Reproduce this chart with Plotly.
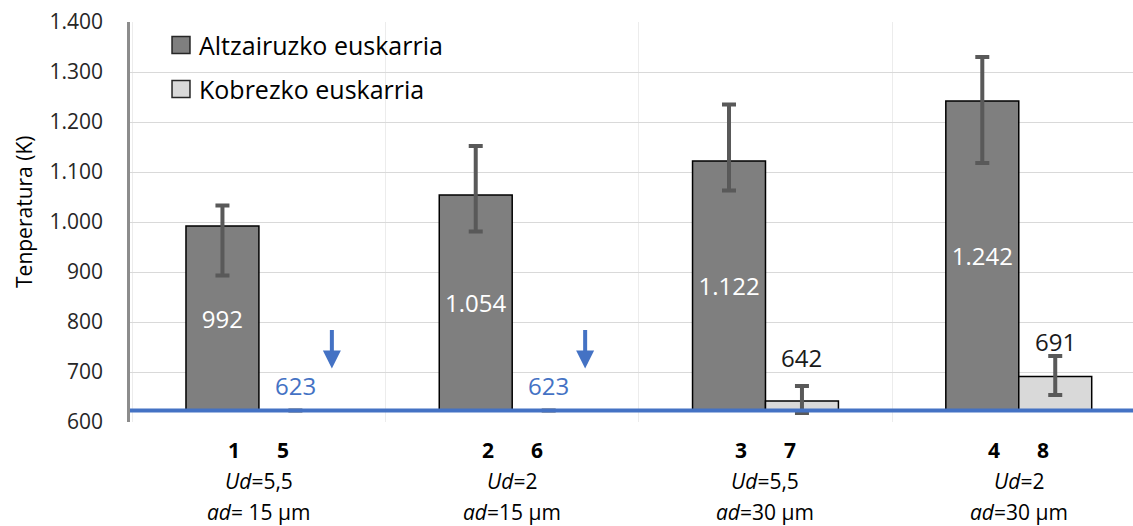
import plotly.graph_objects as go

# Experiment groups (steel support / copper support)
STEEL_IDS = ["1", "2", "3", "4"]
COPPER_IDS = ["5", "6", "7", "8"]
UD_VALUES = ["5,5", "2", "5,5", "2"]
AD_VALUES = [" 15", "15", "30", "30"]

SERIES_NAMES = ["Altzairuzko euskarria", "Kobrezko euskarria"]

STEEL_TEMPS = [992, 1054, 1122, 1242]
STEEL_ERR_PLUS = [41, 98, 113, 88]
STEEL_ERR_MINUS = [99, 73, 59, 124]

COPPER_TEMPS = [623, 623, 642, 691]
COPPER_ERR_PLUS = [0, 0, 30, 41]
COPPER_ERR_MINUS = [0, 0, 24, 37]

REFERENCE_TEMP = 623
Y_MIN, Y_MAX, Y_STEP = 600, 1400, 100

FONT = "Open Sans"
TEXT = "#262626"
BLUE = "#4472C4"
STEEL_COLOR = "#7f7f7f"
COPPER_COLOR = "#d9d9d9"
ERR_COLOR = "#595959"


def fmt(v):
    return f"{v:,}".replace(",", ".")


xs = list(range(len(STEEL_TEMPS)))
BAR_GAP = 0.424
half = (1 - BAR_GAP) / 2  # width of a single bar in category units

fig = go.Figure()

fig.add_trace(go.Bar(
    name=SERIES_NAMES[0], x=xs,
    y=[v - REFERENCE_TEMP for v in STEEL_TEMPS], base=REFERENCE_TEMP,
    marker=dict(color=STEEL_COLOR, line=dict(color="#000000", width=1.5)),
    text=[fmt(v) for v in STEEL_TEMPS], textposition="inside",
    insidetextanchor="middle", textangle=0,
    textfont=dict(family=FONT, size=24, color="white"),
    error_y=dict(type="data", array=STEEL_ERR_PLUS, arrayminus=STEEL_ERR_MINUS,
                 color=ERR_COLOR, thickness=4, width=7),
    showlegend=False,
))

fig.add_trace(go.Bar(
    name=SERIES_NAMES[1], x=xs,
    y=[v - REFERENCE_TEMP for v in COPPER_TEMPS], base=REFERENCE_TEMP,
    marker=dict(color=COPPER_COLOR, line=dict(color="#000000", width=1.5)),
    error_y=dict(type="data", array=COPPER_ERR_PLUS, arrayminus=COPPER_ERR_MINUS,
                 color=ERR_COLOR, thickness=4, width=7),
    showlegend=False,
))

annotations = []
shapes = []

# Value labels above the copper bars
label_shift = [25, 25, 29, 15]
for i, v in enumerate(COPPER_TEMPS):
    annotations.append(dict(
        x=i + half / 2, y=v + COPPER_ERR_PLUS[i], xref="x", yref="y",
        text=fmt(v), showarrow=False, yanchor="middle", yshift=label_shift[i],
        font=dict(family=FONT, size=24,
                  color=BLUE if v == REFERENCE_TEMP else "#1a1a1a"),
    ))
    if v == REFERENCE_TEMP:
        annotations.append(dict(
            x=i + half, y=v, xref="x", yref="y", text="",
            showarrow=True, ax=0, ay=-82, standoff=42,
            arrowhead=2, arrowsize=0.9, arrowwidth=4, arrowcolor=BLUE,
        ))

# Category labels under the axis
for i in xs:
    annotations.append(dict(
        x=i - 0.097, y=-0.07, xref="x", yref="paper", text=f"<b>{STEEL_IDS[i]}</b>",
        showarrow=False, yanchor="middle", font=dict(family=FONT, size=21, color="#000"),
    ))
    annotations.append(dict(
        x=i + 0.097, y=-0.07, xref="x", yref="paper", text=f"<b>{COPPER_IDS[i]}</b>",
        showarrow=False, yanchor="middle", font=dict(family=FONT, size=21, color="#000"),
    ))
    annotations.append(dict(
        x=i, y=-0.1475, xref="x", yref="paper", text=f"<i>Ud</i>={UD_VALUES[i]}",
        showarrow=False, yanchor="middle", font=dict(family=FONT, size=21, color="#000"),
    ))
    annotations.append(dict(
        x=i, y=-0.225, xref="x", yref="paper", text=f"<i>ad</i>={AD_VALUES[i]} µm",
        showarrow=False, yanchor="middle", font=dict(family=FONT, size=21, color="#000"),
    ))

# Y axis title
annotations.append(dict(
    x=-0.1057, y=0.525, xref="paper", yref="paper", text="Tenperatura (K)",
    textangle=-90, showarrow=False, xanchor="center", yanchor="middle",
    font=dict(family=FONT, size=21, color="#000"),
))

# Legend drawn by hand
legend_rows = [(0.9425, STEEL_COLOR), (0.8325, COPPER_COLOR)]
for (yc, color), name in zip(legend_rows, SERIES_NAMES):
    shapes.append(dict(
        type="rect", xref="paper", yref="paper",
        x0=0.0419, x1=0.0598, y0=yc - 0.0215, y1=yc + 0.0215,
        fillcolor=color, line=dict(color="#262626", width=1.5), layer="above",
    ))
    annotations.append(dict(
        x=0.0668, y=yc, xref="paper", yref="paper", text=name,
        showarrow=False, xanchor="left", yanchor="middle",
        font=dict(family=FONT, size=25, color="#000"),
    ))

# Reference temperature line
shapes.append(dict(
    type="line", xref="paper", yref="y", x0=0, x1=1,
    y0=REFERENCE_TEMP, y1=REFERENCE_TEMP,
    line=dict(color=BLUE, width=4), layer="above",
))

fig.update_layout(
    width=1133, height=526,
    margin=dict(l=130, r=0, t=22, b=104),
    paper_bgcolor="white", plot_bgcolor="white",
    barmode="group", bargap=BAR_GAP, bargroupgap=0,
    separators=",.",
    annotations=annotations, shapes=shapes,
    font=dict(family=FONT, color=TEXT),
    uniformtext=dict(mode=False),
)

fig.update_xaxes(
    range=[-0.509, 3.451],
    tickvals=[-0.5, 0.5, 1.5, 2.5, 3.5], showticklabels=False,
    showgrid=True, gridcolor="#ececec", gridwidth=1,
    zeroline=False, showline=False,
)

fig.update_yaxes(
    range=[Y_MIN, Y_MAX], dtick=Y_STEP, tick0=Y_MIN, tickformat=",d",
    showgrid=True, gridcolor="#d9d9d9", gridwidth=1,
    zeroline=False, showline=True, linecolor="#8c8c8c", linewidth=2.5,
    ticks="", ticklabelstandoff=20,
    tickfont=dict(family=FONT, size=21, color=TEXT),
)

fig.write_html("out.html")
